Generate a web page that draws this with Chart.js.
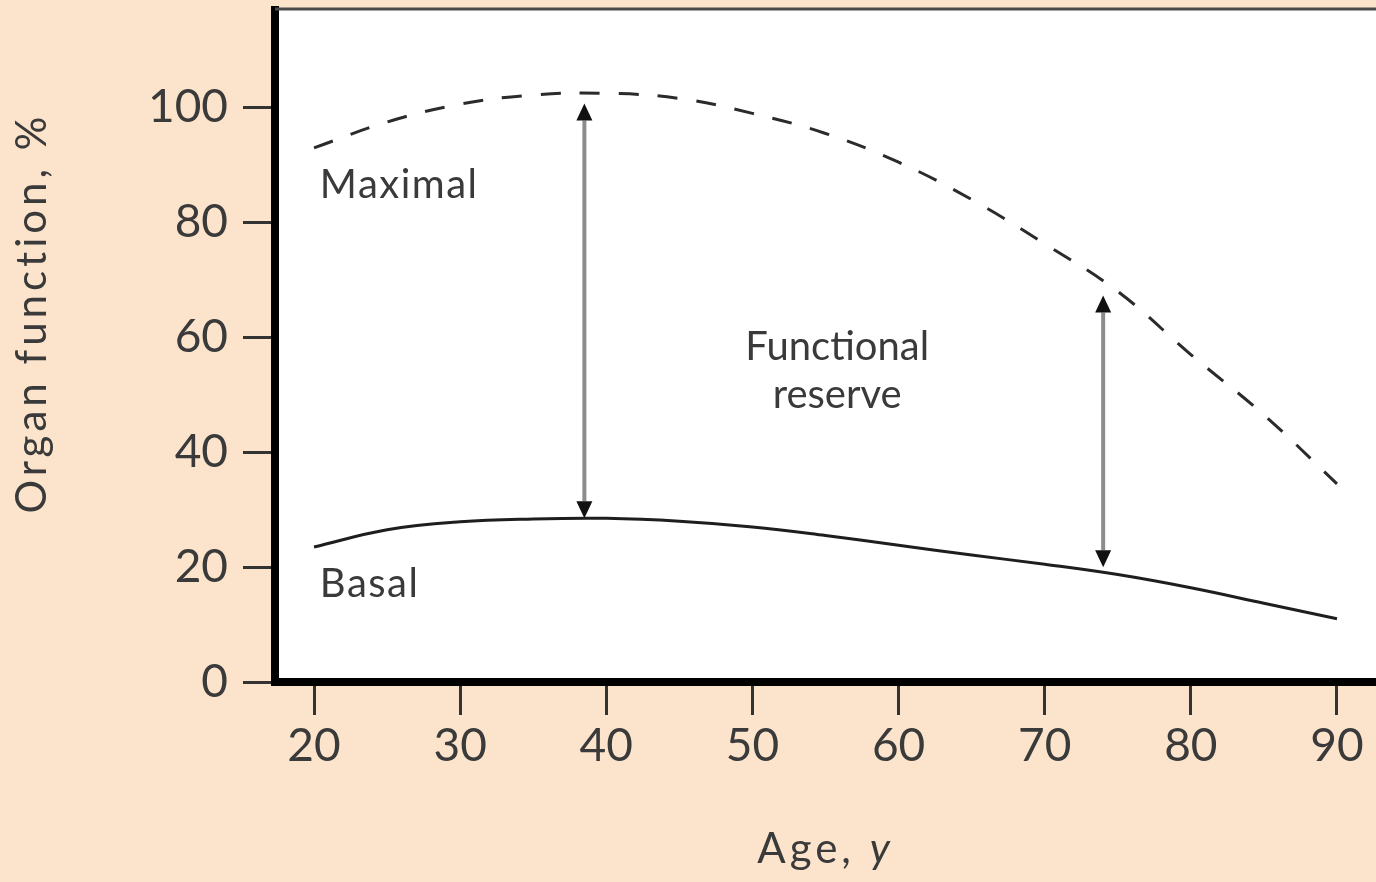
<!DOCTYPE html>
<html>
<head>
<meta charset="utf-8">
<title>Organ function by age</title>
<script src="https://cdn.jsdelivr.net/npm/chart.js@4.4.1/dist/chart.umd.min.js"></script>
<style>
    html, body { margin: 0; padding: 0; background: #fce4cc; }
    canvas { display: block; }
</style>
</head>
<body>
<canvas id="myChart" width="1376" height="882"></canvas>
<script>
// values
let ages = [20, 25, 30, 35, 40, 45, 50, 55, 60, 65, 70, 75, 80, 85, 90];
let maximal = [93, 97.5, 100.6, 102.2, 102.5, 101.6, 99, 95.5, 90.5, 84, 76.3, 68, 57, 46.5, 34.5];
let basal = [23.5, 26.5, 27.9, 28.4, 28.5, 28, 27, 25.5, 23.8, 22.1, 20.5, 18.7, 16.4, 13.7, 11];
let xTicks = [20, 30, 40, 50, 60, 70, 80, 90];
let yTicks = [0, 20, 40, 60, 80, 100];

// the two "functional reserve" arrows
let arrowAges = [38.5, 74];
let arrowLow = [28.5, 20];
let arrowHigh = [100.7, 67.3];

// text written inside the plot
let notes = [
    {text: "Maximal", x: 20.4, y: 84.2, align: "left"},
    {text: "Basal", x: 20.4, y: 14.8, align: "left"},
    {text: "Functional", x: 55.8, y: 56, align: "center"},
    {text: "reserve", x: 55.8, y: 47.7, align: "center"}
];

const FONT = "Lato";
const TEXT = "#3a3a3a";

function toPoints(ys) {
    return ages.map((a, i) => ({x: a, y: ys[i]}));
}

const frame = {
    id: "frame",
    beforeDraw(chart) {
        const {ctx, chartArea: a} = chart;
        ctx.save();
        ctx.fillStyle = "#ffffff";
        ctx.fillRect(a.left, a.top, a.right - a.left, a.bottom - a.top);
        ctx.restore();
    },
    afterDraw(chart) {
        const {ctx, chartArea: a} = chart;
        ctx.save();
        ctx.strokeStyle = "#4a4a4a";
        ctx.lineWidth = 3;
        ctx.beginPath();
        ctx.moveTo(a.left, a.top - 1);
        ctx.lineTo(a.right, a.top - 1);
        ctx.stroke();

        // axis titles
        ctx.fillStyle = TEXT;
        ctx.letterSpacing = "4px";
        ctx.font = "42px " + FONT;
        ctx.textAlign = "center";
        ctx.textBaseline = "middle";
        ctx.save();
        ctx.translate(32, 313);
        ctx.rotate(-Math.PI / 2);
        ctx.fillText("Organ function, %", 0, 0);
        ctx.restore();

        ctx.textBaseline = "alphabetic";
        ctx.textAlign = "left";
        let first = "Age, ";
        ctx.font = "42px " + FONT;
        let w1 = ctx.measureText(first).width;
        ctx.font = "italic 42px " + FONT;
        let w2 = ctx.measureText("y").width;
        let x0 = (a.left + a.right) / 2 - (w1 + w2) / 2;
        ctx.font = "42px " + FONT;
        ctx.fillText(first, x0, 863);
        ctx.font = "italic 42px " + FONT;
        ctx.fillText("y", x0 + w1, 863);
        ctx.restore();
    }
};

const arrowsAndNotes = {
    id: "arrowsAndNotes",
    afterDatasetsDraw(chart) {
        const {ctx, scales: {x, y}} = chart;
        ctx.save();
        arrowAges.forEach((age, i) => {
            let px = x.getPixelForValue(age);
            let top = y.getPixelForValue(arrowHigh[i]);
            let bot = y.getPixelForValue(arrowLow[i]);
            let head = 17, half = 8;
            ctx.strokeStyle = "#8c8c8c";
            ctx.lineWidth = 4;
            ctx.beginPath();
            ctx.moveTo(px, top + head);
            ctx.lineTo(px, bot - head);
            ctx.stroke();
            ctx.fillStyle = "#111";
            ctx.beginPath();
            ctx.moveTo(px, top);
            ctx.lineTo(px - half, top + head);
            ctx.lineTo(px + half, top + head);
            ctx.closePath();
            ctx.fill();
            ctx.beginPath();
            ctx.moveTo(px, bot);
            ctx.lineTo(px - half, bot - head);
            ctx.lineTo(px + half, bot - head);
            ctx.closePath();
            ctx.fill();
        });

        ctx.fillStyle = TEXT;
        ctx.font = "40px " + FONT;
        ctx.textBaseline = "alphabetic";
        notes.forEach(n => {
            ctx.letterSpacing = n.align === "left" ? "1.5px" : "0px";
            ctx.textAlign = n.align;
            ctx.fillText(n.text, x.getPixelForValue(n.x), y.getPixelForValue(n.y));
        });
        ctx.restore();
    }
};

function renderChart() {
    let ctx = document.getElementById("myChart").getContext("2d");
    new Chart(ctx, {
        type: "line",
        data: {
            datasets: [{
                label: "Maximal",
                data: toPoints(maximal),
                borderColor: "#2b2b2b",
                borderWidth: 3,
                borderDash: [20, 19],
                tension: 0.4,
                pointRadius: 0,
                fill: false
            }, {
                label: "Basal",
                data: toPoints(basal),
                borderColor: "#1e1e1e",
                borderWidth: 3,
                tension: 0.4,
                pointRadius: 0,
                fill: false
            }]
        },
        options: {
            responsive: false,
            animation: false,
            layout: {padding: {top: 10, right: 0, left: 0, bottom: 0}},
            plugins: {
                legend: {display: false},
                tooltip: {enabled: false}
            },
            scales: {
                x: {
                    type: "linear",
                    position: "bottom",
                    min: 17.33,
                    max: 92.67,
                    afterFit: s => {
                        s.height = 200;
                        s.paddingLeft = 0;
                        s.paddingRight = 0;
                    },
                    afterBuildTicks: s => { s.ticks = xTicks.map(v => ({value: v})); },
                    grid: {drawOnChartArea: false, tickLength: 33, lineWidth: 3, color: "#333"},
                    border: {display: true, width: 8, color: "#000"},
                    ticks: {
                        autoSkip: false,
                        maxRotation: 0,
                        padding: 4,
                        color: TEXT,
                        font: {family: FONT, size: 46}
                    }
                },
                y: {
                    min: 0,
                    max: 117,
                    afterFit: s => {
                        s.width = 275;
                        s.paddingTop = 0;
                        s.paddingBottom = 0;
                    },
                    afterBuildTicks: s => { s.ticks = yTicks.map(v => ({value: v})); },
                    grid: {drawOnChartArea: false, tickLength: 32, lineWidth: 3, color: "#333"},
                    border: {display: true, width: 8, color: "#000"},
                    ticks: {
                        autoSkip: false,
                        padding: 15,
                        color: TEXT,
                        font: {family: FONT, size: 46}
                    }
                }
            }
        },
        plugins: [frame, arrowsAndNotes]
    });
}

renderChart();
</script>
</body>
</html>
